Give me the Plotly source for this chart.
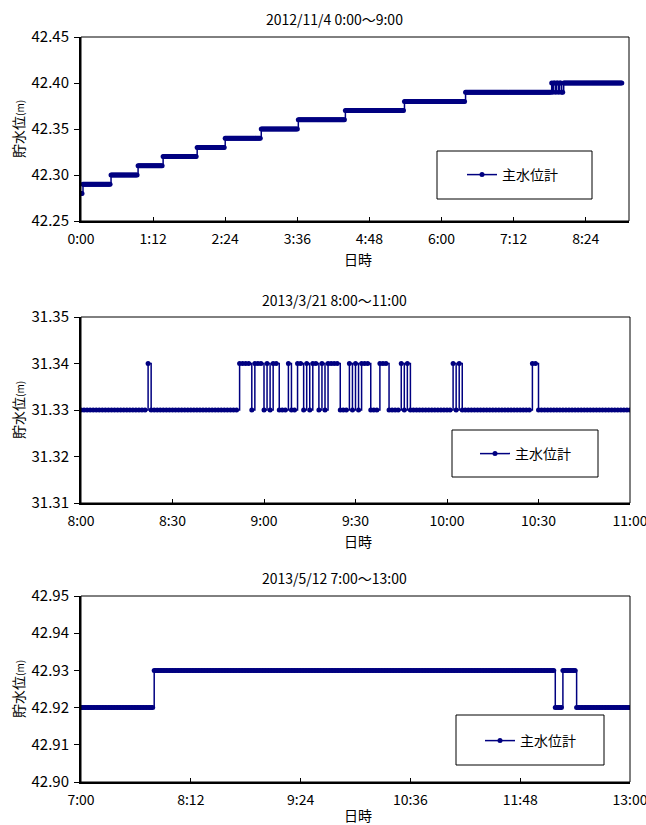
import numpy as np
import plotly.graph_objects as go

# ---------------- data ----------------
# Panel 1: 2012/11/4 0:00~9:00  (minutes after 0:00 where the level changes)
p1_title = "2012/11/4 0:00～9:00"
p1_change_min = [0, 2, 30, 57, 82, 116, 144, 180, 217, 264, 323, 384,
                 470, 471, 472, 474, 475, 477, 478, 480, 482]
p1_levels = [42.28, 42.29, 42.30, 42.31, 42.32, 42.33, 42.34, 42.35, 42.36,
             42.37, 42.38, 42.39, 42.40, 42.39, 42.40, 42.39, 42.40, 42.39,
             42.40, 42.39, 42.40]
p1_end_min = 540
p1_tick_min = [0, 72, 144, 216, 288, 360, 432, 504]
p1_tick_text = ["0:00", "1:12", "2:24", "3:36", "4:48", "6:00", "7:12", "8:24"]
p1_xrange = [0, 547.2]
p1_yticks = [42.25, 42.30, 42.35, 42.40, 42.45]

# Panel 2: 2013/3/21 8:00~11:00  (minutes after 8:00)
p2_title = "2013/3/21 8:00～11:00"
p2_change_min = [0, 22, 23, 52, 56, 57, 60, 61, 62, 63, 65, 68, 69, 71, 73,
                 74, 75, 76, 78, 79, 80, 81, 85, 88, 89, 90, 91, 92, 95, 98,
                 101, 105, 106, 107, 108, 122, 123, 124, 125, 148, 150]
p2_levels = [31.33, 31.34, 31.33, 31.34, 31.33, 31.34, 31.33, 31.34, 31.33,
             31.34, 31.33, 31.34, 31.33, 31.34, 31.33, 31.34, 31.33, 31.34,
             31.33, 31.34, 31.33, 31.34, 31.33, 31.34, 31.33, 31.34, 31.33,
             31.34, 31.33, 31.34, 31.33, 31.34, 31.33, 31.34, 31.33, 31.34,
             31.33, 31.34, 31.33, 31.34, 31.33]
p2_end_min = 180
p2_tick_min = [0, 30, 60, 90, 120, 150, 180]
p2_tick_text = ["8:00", "8:30", "9:00", "9:30", "10:00", "10:30", "11:00"]
p2_xrange = [0, 180]
p2_yticks = [31.31, 31.32, 31.33, 31.34, 31.35]

# Panel 3: 2013/5/12 7:00~13:00  (minutes after 7:00)
p3_title = "2013/5/12 7:00～13:00"
p3_change_min = [0, 48, 311, 316, 325]
p3_levels = [42.92, 42.93, 42.92, 42.93, 42.92]
p3_end_min = 360
p3_tick_min = [0, 72, 144, 216, 288, 360]
p3_tick_text = ["7:00", "8:12", "9:24", "10:36", "11:48", "13:00"]
p3_xrange = [0, 360]
p3_yticks = [42.90, 42.91, 42.92, 42.93, 42.94, 42.95]

series_name = "主水位計"
x_title = "日時"
y_title = "貯水位<span style='font-size:10px'>(m)</span>"

# ---------------- layout helpers ----------------
W, H = 646, 825
FONT = "Noto Sans CJK JP"
NAVY = "#000080"


def fx(px):
    return px / W


def fy(py):
    return 1 - py / H


def samples(change_min, levels, end_min):
    t = np.arange(0, end_min + 1)
    idx = np.searchsorted(np.array(change_min), t, side="right") - 1
    return t, np.array(levels)[idx]


panels = [
    dict(title=p1_title, ch=p1_change_min, lv=p1_levels, end=p1_end_min,
         tv=p1_tick_min, tt=p1_tick_text, xr=p1_xrange, yt=p1_yticks,
         box=(81, 37, 629, 221), title_y=19, xt_y=259,
         leg=(437, 151, 592, 199), leg_x=462, leg_y=175),
    dict(title=p2_title, ch=p2_change_min, lv=p2_levels, end=p2_end_min,
         tv=p2_tick_min, tt=p2_tick_text, xr=p2_xrange, yt=p2_yticks,
         box=(81, 317, 630, 503), title_y=300, xt_y=541,
         leg=(452, 430, 598, 477), leg_x=475, leg_y=454),
    dict(title=p3_title, ch=p3_change_min, lv=p3_levels, end=p3_end_min,
         tv=p3_tick_min, tt=p3_tick_text, xr=p3_xrange, yt=p3_yticks,
         box=(81, 596, 630, 782), title_y=578, xt_y=815,
         leg=(456, 715, 604, 765), leg_x=480, leg_y=741),
]

fig = go.Figure()
shapes = []
annotations = []
layout = dict(
    width=W, height=H,
    margin=dict(l=0, r=0, t=0, b=0, autoexpand=False),
    paper_bgcolor="white", plot_bgcolor="white",
    font=dict(family=FONT, size=14, color="black"),
    showlegend=True,
)

for i, p in enumerate(panels, start=1):
    xa = "x" if i == 1 else f"x{i}"
    ya = "y" if i == 1 else f"y{i}"
    lg = "legend" if i == 1 else f"legend{i}"
    x0, y0, x1, y1 = p["box"]
    t, v = samples(p["ch"], p["lv"], p["end"])
    fig.add_trace(go.Scatter(
        x=t, y=v, mode="lines+markers", name=series_name,
        line=dict(color=NAVY, width=1.5, shape="hv"),
        marker=dict(color=NAVY, size=5),
        xaxis=xa, yaxis=ya, legend=lg, showlegend=True,
    ))
    layout["xaxis" if i == 1 else f"xaxis{i}"] = dict(
        domain=[fx(x0), fx(x1)], range=p["xr"], anchor=ya, automargin=False,
        showline=True, linecolor="black", linewidth=2, mirror=False,
        ticks="inside", ticklen=4, tickwidth=1, tickcolor="black",
        tickvals=p["tv"], ticktext=p["tt"], showgrid=False, zeroline=False,
        tickfont=dict(family=FONT, size=14), ticklabelstandoff=4,
        ticklabeloverflow="allow",
    )
    layout["yaxis" if i == 1 else f"yaxis{i}"] = dict(
        domain=[fy(y1), fy(y0)], range=[p["yt"][0], p["yt"][-1]], anchor=xa,
        automargin=False,
        showline=True, linecolor="black", linewidth=2, mirror=False,
        ticks="outside", ticklen=5, tickwidth=1, tickcolor="black",
        tickvals=p["yt"], tickformat=".2f", showgrid=False, zeroline=False,
        tickfont=dict(family=FONT, size=15), ticklabelstandoff=2,
        ticklabeloverflow="allow",
    )
    # plot-area border (top / right)
    shapes.append(dict(type="rect", xref="paper", yref="paper",
                       x0=fx(x0), x1=fx(x1), y0=fy(y1), y1=fy(y0),
                       line=dict(color="black", width=1), layer="above"))
    # legend box
    lx0, ly0, lx1, ly1 = p["leg"]
    shapes.append(dict(type="rect", xref="paper", yref="paper",
                       x0=fx(lx0), x1=fx(lx1), y0=fy(ly1), y1=fy(ly0),
                       line=dict(color="black", width=1), fillcolor="white",
                       layer="below"))
    layout[lg] = dict(x=fx(p["leg_x"]), y=fy(p["leg_y"]), xanchor="left",
                      yanchor="middle", bgcolor="rgba(0,0,0,0)", borderwidth=0,
                      font=dict(family=FONT, size=14))
    # titles
    annotations.append(dict(text=p["title"], xref="paper", yref="paper",
                            x=fx(334), y=fy(p["title_y"]), showarrow=False,
                            xanchor="center", yanchor="middle",
                            font=dict(family=FONT, size=14)))
    annotations.append(dict(text=x_title, xref="paper", yref="paper",
                            x=fx(358), y=fy(p["xt_y"]), showarrow=False,
                            xanchor="center", yanchor="middle",
                            font=dict(family=FONT, size=14)))
    annotations.append(dict(text=y_title, xref="paper", yref="paper",
                            x=fx(18), y=fy((y0 + y1) / 2), showarrow=False,
                            textangle=-90, xanchor="center", yanchor="middle",
                            font=dict(family=FONT, size=14)))

layout["shapes"] = shapes
layout["annotations"] = annotations
fig.update_layout(**layout)
fig.write_html("out.html")
